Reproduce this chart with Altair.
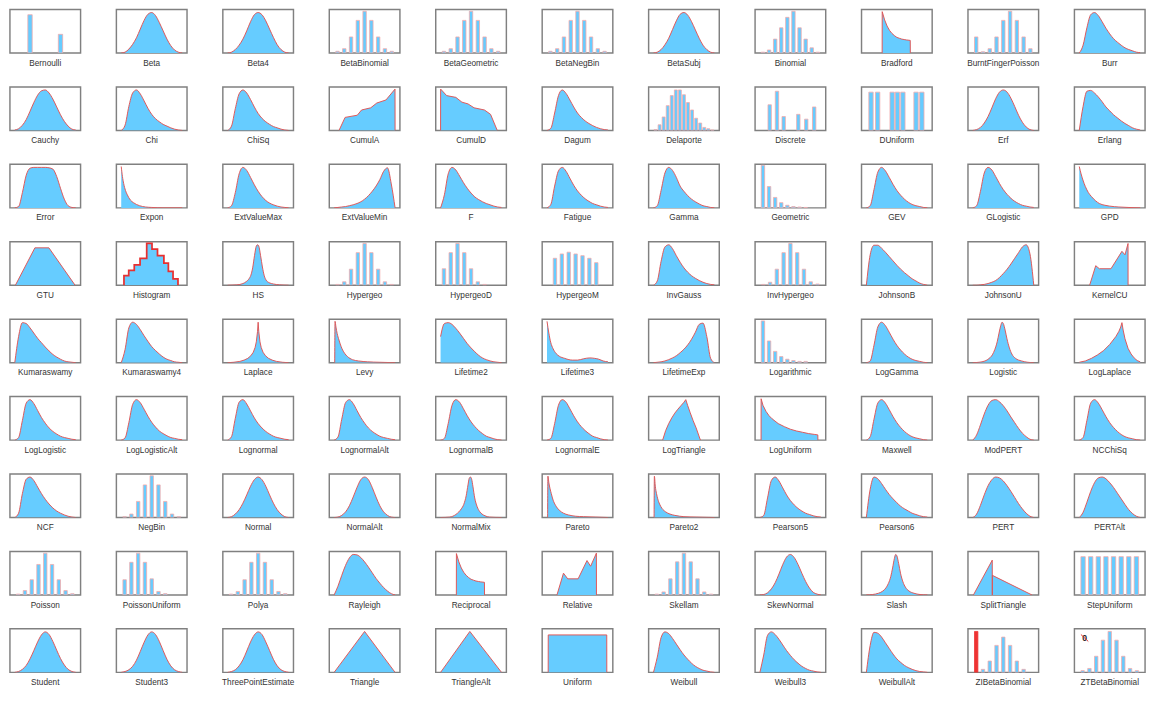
import altair as alt
import pandas as pd

# ---------------- panel names (row-major, 11 per row) ----------------
NAMES = [
    "Bernoulli", "Beta", "Beta4", "BetaBinomial", "BetaGeometric", "BetaNegBin", "BetaSubj", "Binomial", "Bradford", "BurntFingerPoisson", "Burr",
    "Cauchy", "Chi", "ChiSq", "CumulA", "CumulD", "Dagum", "Delaporte", "Discrete", "DUniform", "Erf", "Erlang",
    "Error", "Expon", "ExtValueMax", "ExtValueMin", "F", "Fatigue", "Gamma", "Geometric", "GEV", "GLogistic", "GPD",
    "GTU", "Histogram", "HS", "Hypergeo", "HypergeoD", "HypergeoM", "InvGauss", "InvHypergeo", "JohnsonB", "JohnsonU", "KernelCU",
    "Kumaraswamy", "Kumaraswamy4", "Laplace", "Levy", "Lifetime2", "Lifetime3", "LifetimeExp", "Logarithmic", "LogGamma", "Logistic", "LogLaplace",
    "LogLogistic", "LogLogisticAlt", "Lognormal", "LognormalAlt", "LognormalB", "LognormalE", "LogTriangle", "LogUniform", "Maxwell", "ModPERT", "NCChiSq",
    "NCF", "NegBin", "Normal", "NormalAlt", "NormalMix", "Pareto", "Pareto2", "Pearson5", "Pearson6", "PERT", "PERTAlt",
    "Poisson", "PoissonUniform", "Polya", "Rayleigh", "Reciprocal", "Relative", "Skellam", "SkewNormal", "Slash", "SplitTriangle", "StepUniform",
    "Student", "Student3", "ThreePointEstimate", "Triangle", "TriangleAlt", "Uniform", "Weibull", "Weibull3", "WeibullAlt", "ZIBetaBinomial", "ZTBetaBinomial",
]

# default x grid (fraction of panel width) for smooth curves
GRID = [0, 0.0625, 0.125, 0.1875, 0.25, 0.3125, 0.375, 0.4375, 0.5,
        0.5625, 0.625, 0.6875, 0.75, 0.8125, 0.875, 0.9375, 1]

# ---------------- smooth curves on GRID (height, % of panel) ----------------
BETA = [0, 2, 9, 20, 35, 55, 75, 89, 93, 86, 70, 51, 32, 17, 7, 2, 0]
BETA4 = [0, 2, 8, 18, 32, 51, 72, 88, 93, 88, 74, 55, 36, 19, 8, 2, 0]
BETASUBJ = [0, 2, 8, 19, 34, 54, 74, 89, 93, 87, 72, 53, 34, 18, 8, 2, 0]
BURR = [0, 18, 58, 88, 93, 86, 72, 57, 44, 33, 25, 18, 12, 8, 5, 2, 1]
CAUCHY = [1, 4, 12, 25, 44, 64, 81, 91, 93, 86, 72, 54, 36, 21, 10, 3, 1]
CHI = [0, 12, 55, 86, 93, 84, 68, 51, 37, 27, 20, 14, 10, 6, 3, 1, 0]
CHISQ = [0, 10, 50, 84, 93, 86, 71, 54, 39, 28, 20, 14, 9, 6, 3, 1, 0]
DAGUM = [0, 5, 40, 80, 93, 85, 70, 54, 40, 30, 22, 16, 11, 7, 4, 2, 1]
ERF = [0, 2, 7, 17, 32, 52, 73, 88, 93, 88, 74, 55, 35, 19, 8, 2, 0]
ERLANG = [0, 55, 90, 92, 86, 77, 66, 54, 45, 36, 29, 22, 16, 11, 6, 3, 1]
ERROR = [0, 3, 35, 75, 91, 93, 93, 93, 93, 92, 89, 72, 45, 20, 5, 1, 0]
EXTVALUEMAX = [0, 5, 35, 78, 93, 86, 70, 53, 38, 26, 17, 11, 7, 4, 2, 1, 0]
EXTVALUEMIN = [0, 1, 2, 3, 5, 7, 10, 14, 20, 28, 38, 50, 65, 84, 92, 55, 0]
F_DIST = [0, 30, 78, 93, 87, 73, 58, 45, 34, 25, 19, 14, 10, 7, 4, 2, 1]
FATIGUE = [0, 8, 50, 85, 93, 84, 68, 52, 39, 29, 21, 15, 10, 7, 4, 2, 1]
GAMMA = [0, 5, 40, 80, 93, 86, 70, 50, 38, 28, 20, 14, 9, 5, 3, 1, 0]
GEV = [0, 5, 42, 82, 93, 85, 70, 54, 40, 29, 20, 13, 8, 5, 3, 1, 0]
GLOGISTIC = [0, 5, 38, 80, 93, 87, 72, 56, 42, 31, 22, 15, 10, 6, 4, 2, 1]
INVGAUSS = [0, 10, 55, 88, 93, 84, 68, 53, 40, 30, 22, 16, 11, 7, 4, 2, 1]
JOHNSONB = [0, 70, 92, 92, 85, 76, 66, 56, 46, 37, 29, 22, 15, 10, 5, 2, 0]
JOHNSONU = [0, 0, 1, 2, 4, 7, 11, 18, 27, 37, 49, 62, 75, 88, 93, 72, 0]
KUMARASWAMY = [0, 60, 92, 90, 80, 68, 56, 46, 36, 27, 19, 13, 8, 4, 2, 1, 0]
KUMARASWAMY4 = [0, 30, 80, 93, 88, 76, 62, 49, 37, 28, 20, 13, 8, 5, 2, 1, 0]
LIFETIME2 = [60, 90, 92, 88, 79, 68, 56, 44, 34, 25, 17, 11, 7, 4, 2, 1, 0]
LIFETIMEEXP = [0, 1, 2, 4, 7, 11, 16, 23, 31, 41, 54, 70, 88, 91, 60, 10, 0]
LOGGAMMA = [0, 4, 40, 82, 93, 85, 70, 54, 40, 29, 20, 13, 8, 5, 3, 1, 0]
LOGLOGISTIC = [0, 6, 45, 85, 93, 84, 68, 52, 39, 28, 20, 14, 9, 6, 4, 2, 1]
LOGLOGISTICALT = [0, 5, 40, 82, 93, 86, 71, 55, 41, 30, 21, 15, 10, 6, 4, 2, 1]
LOGNORMAL = [0, 8, 50, 87, 93, 83, 67, 51, 38, 28, 20, 14, 9, 6, 4, 2, 1]
LOGNORMALALT = [0, 7, 48, 86, 93, 84, 68, 52, 39, 28, 20, 14, 9, 6, 4, 2, 1]
LOGNORMALB = [0, 4, 38, 80, 93, 87, 72, 56, 42, 31, 22, 15, 9, 6, 3, 1, 0]
LOGNORMALE = [0, 4, 38, 80, 93, 87, 72, 56, 42, 31, 22, 15, 9, 6, 3, 1, 0]
MAXWELL = [0, 8, 48, 85, 93, 85, 70, 54, 40, 29, 20, 13, 8, 5, 3, 1, 0]
MODPERT = [0, 12, 35, 60, 80, 91, 93, 88, 79, 67, 53, 40, 27, 16, 8, 2, 0]
NCCHISQ = [0, 6, 45, 85, 93, 85, 70, 54, 40, 29, 20, 13, 8, 5, 3, 1, 0]
NCF = [0, 10, 55, 88, 93, 85, 70, 55, 42, 31, 22, 15, 10, 6, 3, 1, 0]
NORMAL = [0, 2, 8, 18, 33, 52, 72, 87, 93, 87, 72, 52, 33, 18, 8, 2, 0]
NORMALALT = [0, 1, 5, 13, 27, 47, 69, 87, 93, 87, 69, 47, 27, 13, 5, 1, 0]
PEARSON5 = [0, 5, 45, 85, 93, 84, 68, 52, 39, 29, 21, 15, 10, 7, 4, 2, 1]
PEARSON6 = [0, 65, 93, 89, 78, 65, 53, 43, 34, 26, 20, 15, 10, 7, 4, 2, 1]
PERT = [0, 8, 28, 52, 73, 87, 93, 91, 84, 73, 60, 46, 32, 20, 10, 3, 0]
PERTALT = [0, 12, 35, 60, 80, 91, 93, 89, 80, 69, 56, 43, 30, 18, 9, 3, 0]
RAYLEIGH = [0, 20, 45, 68, 85, 93, 92, 86, 76, 64, 51, 38, 27, 17, 9, 3, 0]
SKEWNORMAL = [0, 1, 5, 14, 28, 48, 70, 87, 93, 86, 70, 50, 31, 16, 6, 2, 0]
STUDENT = [0, 2, 7, 16, 31, 50, 70, 86, 93, 87, 71, 51, 32, 17, 7, 2, 0]
STUDENT3 = [0, 2, 6, 14, 28, 48, 69, 86, 93, 87, 71, 50, 30, 15, 6, 2, 0]
THREEPOINT = [0, 2, 6, 15, 29, 49, 70, 86, 93, 87, 70, 50, 30, 15, 6, 2, 0]
WEIBULL = [0, 35, 80, 93, 89, 78, 65, 52, 40, 30, 21, 14, 9, 5, 3, 1, 0]
WEIBULL3 = [0, 40, 85, 93, 87, 76, 63, 50, 39, 29, 21, 14, 9, 5, 3, 1, 0]
WEIBULLALT = [0, 62, 92, 90, 81, 68, 55, 42, 31, 23, 16, 11, 7, 4, 2, 1, 0]

# ---------------- curves with their own x positions ----------------
EXPON_X = [0, .02, .04, .07, .1, .15, .2, .3, .4, .5, .7, 1.0]
EXPON_Y = [95, 72, 56, 40, 30, 18, 12, 5, 2, 1, 0, 0]
GPD_X = [0, .03, .06, .1, .15, .2, .27, .33, .42, .5, .65, .8, 1]
GPD_Y = [95, 78, 64, 49, 35, 26, 16, 10, 6, 4, 2, 1, 0]
HS_X = [0, .15, .25, .3, .35, .38, .41, .44, .47, .49, .51, .54, .57, .6, .63, .68, .75, .85, 1]
HS_Y = [0, 1, 4, 8, 15, 23, 40, 68, 90, 93, 90, 68, 42, 22, 12, 6, 3, 1, 0]
LAPLACE_X = [0, .1, .2, .27, .33, .38, .42, .45, .47, .49, .5, .51, .53, .55, .58, .62, .67, .73, .8, .9, 1]
LAPLACE_Y = [0, 1, 3, 6, 10, 16, 24, 35, 48, 72, 93, 72, 48, 35, 24, 16, 10, 6, 3, 1, 0]
LEVY_X = [0.01, 0.015, 0.03, 0.05, 0.08, 0.1, 0.13, 0.17, 0.22, 0.3, 0.4, 0.55, 0.75, 1]
LEVY_Y = [0, 95, 82, 67, 52, 43, 32, 22, 14, 7, 4, 2, 1, 0]
LIFETIME3_X = [0, .03, .06, .1, .15, .2, .29, .36, .42, .5, .6, .7, .78, .85, .92, 1]
LIFETIME3_Y = [95, 68, 47, 32, 21, 15, 10, 7, 6, 6, 9, 11, 10, 8, 4, 2]
LOGISTIC_X = [0, .1, .2, .27, .32, .36, .4, .43, .46, .48, .5, .53, .56, .6, .64, .7, .8, .9, 1]
LOGISTIC_Y = [0, 1, 4, 10, 18, 30, 48, 68, 86, 93, 90, 75, 55, 34, 20, 10, 4, 1, 0]
NORMALMIX_X = [0, .15, .2, .25, .3, .34, .38, .42, .45, .47, .49, .51, .53, .56, .6, .64, .68, .73, .8, 1]
NORMALMIX_Y = [0, 1, 3, 7, 13, 20, 30, 50, 75, 90, 93, 88, 72, 45, 25, 14, 8, 4, 1, 0]
PARETO_X = [0.01, 0.015, 0.03, 0.05, 0.07, 0.1, 0.14, 0.2, 0.27, 0.35, 0.47, 0.6, 0.8, 1]
PARETO_Y = [0, 95, 80, 66, 55, 40, 28, 17, 10, 6, 3, 2, 1, 0]
PARETO2_X = [0.01, 0.015, 0.03, 0.05, 0.07, 0.1, 0.14, 0.2, 0.27, 0.35, 0.5, 0.7, 1]
PARETO2_Y = [0, 95, 72, 55, 43, 31, 21, 13, 8, 5, 2, 1, 0]
SLASH_X = [0, .1, .2, .27, .32, .36, .4, .43, .46, .48, .5, .53, .56, .6, .64, .7, .78, .88, 1]
SLASH_Y = [0, 1, 4, 9, 16, 26, 42, 62, 84, 93, 90, 72, 50, 30, 18, 9, 4, 1, 0]

# straight-segment shapes (vertical edges as two close x values)
BRADFORD_X = [0.259, 0.26, 0.30, 0.34, 0.38, 0.42, 0.46, 0.50, 0.54, 0.58, 0.62, 0.66, 0.72, 0.721]
BRADFORD_Y = [0, 95, 76, 62, 52, 45, 40, 36, 34, 32, 31, 30, 29, 0]
RECIPROCAL_X = [0.259, 0.26, 0.30, 0.34, 0.38, 0.42, 0.46, 0.50, 0.54, 0.58, 0.62, 0.66, 0.72, 0.721]
RECIPROCAL_Y = [0, 95, 76, 62, 52, 45, 40, 36, 34, 32, 31, 30, 29, 0]
CUMULA_X = [0.08, 0.18, 0.38, 0.45, 0.6, 0.7, 0.85, 0.999, 1.0]
CUMULA_Y = [0, 30, 35, 47, 52, 63, 70, 95, 0]
CUMULD_X = [0.0, 0.001, 0.1, 0.25, 0.35, 0.45, 0.55, 0.72, 0.82, 0.93]
CUMULD_Y = [0, 95, 80, 76, 65, 61, 52, 47, 37, 0]
GTU_X = [0.01, 0.33, 0.56, 0.99]
GTU_Y = [0, 86, 86, 0]
KERNELCU_X = [0.17, 0.27, 0.33, 0.52, 0.7, 0.75, 0.8, 0.801]
KERNELCU_Y = [0, 45, 38, 38, 78, 70, 96, 0]
LOGLAPLACE_X = [0, .1, .2, .3, .4, .5, .6, .65, .68, .7, .72, .75, .8, .85, .9, .95, 1]
LOGLAPLACE_Y = [1, 4, 10, 18, 28, 42, 60, 72, 82, 92, 75, 55, 33, 20, 11, 5, 2]
LOGTRIANGLE_X = [0.15, 0.2, 0.25, 0.3, 0.35, 0.4, 0.45, 0.5, 0.53, 0.56, 0.6, 0.65, 0.7, 0.77]
LOGTRIANGLE_Y = [0, 22, 38, 51, 62, 71, 79, 87, 93, 80, 64, 45, 28, 0]
LOGUNIFORM_X = [0.019, 0.02, 0.05, 0.1, 0.15, 0.2, 0.3, 0.4, 0.5, 0.6, 0.7, 0.8, 0.9, 0.95, 0.951]
LOGUNIFORM_Y = [0, 95, 80, 66, 56, 49, 38, 31, 25, 21, 18, 15, 13, 12, 0]
RELATIVE_X = [0.163, 0.27, 0.34, 0.51, 0.656, 0.715, 0.81, 0.811]
RELATIVE_Y = [0, 50, 37, 37, 79, 66, 96, 0]
SPLITTRI_X = [0.01, 0.319, 0.32, 0.321, 0.97]
SPLITTRI_Y = [0, 80, 0, 45, 0]
TRIANGLE_X = [0, 0.5, 1]
TRIANGLE_Y = [0, 94, 0]
TRIANGLEALT_X = [0, 0.48, 1]
TRIANGLEALT_Y = [0, 94, 0]
UNIFORM_X = [0.019, 0.02, 0.98, 0.981]
UNIFORM_Y = [0, 86, 86, 0]

# histogram (step outline)
HIST_X = [0.044, 0.045, 0.123, 0.214, 0.309, 0.418, 0.505, 0.595, 0.70, 0.773, 0.85, 0.93, 0.931]
HIST_Y = [0, 22, 34, 47, 62, 96, 83, 68, 51, 32, 15, 15, 0]

# ---------------- discrete (bar) panels ----------------
BERNOULLI = [88, 43]
BETABINOMIAL = [4, 10, 37, 75, 96, 75, 37, 10, 4]
BETAGEOMETRIC = [4, 10, 37, 75, 96, 75, 37, 10, 4]
BETANEGBIN = [4, 10, 37, 75, 96, 75, 37, 10, 4]
BINOMIAL = [2, 7, 32, 58, 82, 96, 58, 32, 12, 2]
BURNTFINGER = [37, 3, 10, 37, 75, 96, 75, 37, 10]
DELAPORTE = [2, 13, 31, 57, 80, 93, 93, 82, 64, 47, 28, 17, 7, 4, 1]
DISCRETE_X = [0.16, 0.28, 0.39, 0.63, 0.76, 0.89]
DISCRETE = [59, 90, 32, 37, 26, 54]
DUNIFORM_X = [0.076, 0.185, 0.423, 0.509, 0.599, 0.815, 0.91]
DUNIFORM = [88, 88, 88, 88, 88, 88, 88]
GEOMETRIC = [98, 49, 24, 12, 6, 3, 2, 1]
HYPERGEO = [2, 8, 37, 75, 96, 75, 37, 8, 2]
HYPERGEOD = [38, 75, 96, 75, 38, 8, 2]
HYPERGEOM_X = [0.13, 0.243, 0.356, 0.469, 0.582, 0.695, 0.808]
HYPERGEOM = [62, 72, 76, 72, 68, 62, 52]
INVHYPERGEO = [2, 7, 37, 75, 96, 75, 37, 8, 3]
LOGARITHMIC = [96, 50, 26, 14, 8, 5, 3, 3]
NEGBIN = [2, 8, 37, 75, 96, 75, 37, 8, 2]
POISSON = [2, 10, 35, 70, 96, 70, 35, 10, 3]
POISSONUNIFORM = [35, 75, 96, 75, 37, 8, 3]
POLYA = [2, 8, 35, 75, 96, 75, 35, 8, 3]
SKELLAM = [2, 7, 37, 76, 96, 76, 37, 7, 2]
STEPUNIFORM = [88, 88, 88, 88, 88, 88, 88, 88]
ZIBETABINOMIAL = [94, 7, 26, 62, 81, 62, 26, 7]
ZTBETABINOMIAL = [4, 9, 37, 74, 94, 74, 37, 9, 4]
ZT_MARK_X = [0.027, 0.148]
ZT_MARK_Y = [87, 71]

FILL = "#66CCFF"
CURVE = "#E05555"
BAR_EDGE = "#F4AAAA"

rows = []


def curve(name, ys, xs=GRID, kind="mono"):
    for i, (x, y) in enumerate(zip(xs, ys)):
        rows.append({"name": name, "kind": kind, "x": x, "y": y, "i": i})


def bars(name, ys, xs=None, slots=None, bw=3.5, first=None):
    n = slots or len(ys)
    if xs is None:
        xs = [(i + 0.5) / n for i in range(len(ys))]
    for i, (x, y) in enumerate(zip(xs, ys)):
        red = first is not None and i == 0
        rows.append({"name": name, "kind": "bar", "x": x, "y": y, "i": i, "bw": bw,
                     "fill": first if red else FILL, "stroke": first if red else BAR_EDGE})


bars("Bernoulli", BERNOULLI, bw=4.5)
curve("Beta", BETA)
curve("Beta4", BETA4)
bars("BetaBinomial", BETABINOMIAL)
bars("BetaGeometric", BETAGEOMETRIC)
bars("BetaNegBin", BETANEGBIN)
curve("BetaSubj", BETASUBJ)
bars("Binomial", BINOMIAL)
curve("Bradford", BRADFORD_Y, BRADFORD_X, "lin")
bars("BurntFingerPoisson", BURNTFINGER)
curve("Burr", BURR)
curve("Cauchy", CAUCHY)
curve("Chi", CHI)
curve("ChiSq", CHISQ)
curve("CumulA", CUMULA_Y, CUMULA_X, "lin")
curve("CumulD", CUMULD_Y, CUMULD_X, "lin")
curve("Dagum", DAGUM)
bars("Delaporte", DELAPORTE, bw=3)
bars("Discrete", DISCRETE, DISCRETE_X)
bars("DUniform", DUNIFORM, DUNIFORM_X, bw=4.5)
curve("Erf", ERF)
curve("Erlang", ERLANG)
curve("Error", ERROR)
curve("Expon", EXPON_Y, EXPON_X)
curve("ExtValueMax", EXTVALUEMAX)
curve("ExtValueMin", EXTVALUEMIN)
curve("F", F_DIST)
curve("Fatigue", FATIGUE)
curve("Gamma", GAMMA)
bars("Geometric", GEOMETRIC, slots=10)
curve("GEV", GEV)
curve("GLogistic", GLOGISTIC)
curve("GPD", GPD_Y, GPD_X)
curve("GTU", GTU_Y, GTU_X, "lin")
curve("Histogram", HIST_Y, HIST_X, "step")
curve("HS", HS_Y, HS_X)
bars("Hypergeo", HYPERGEO)
bars("HypergeoD", HYPERGEOD, slots=9)
bars("HypergeoM", HYPERGEOM, HYPERGEOM_X)
curve("InvGauss", INVGAUSS)
bars("InvHypergeo", INVHYPERGEO)
curve("JohnsonB", JOHNSONB)
curve("JohnsonU", JOHNSONU)
curve("KernelCU", KERNELCU_Y, KERNELCU_X, "lin")
curve("Kumaraswamy", KUMARASWAMY)
curve("Kumaraswamy4", KUMARASWAMY4)
curve("Laplace", LAPLACE_Y, LAPLACE_X, "lin")
curve("Levy", LEVY_Y, LEVY_X)
curve("Lifetime2", LIFETIME2)
curve("Lifetime3", LIFETIME3_Y, LIFETIME3_X)
curve("LifetimeExp", LIFETIMEEXP)
bars("Logarithmic", LOGARITHMIC, slots=10)
curve("LogGamma", LOGGAMMA)
curve("Logistic", LOGISTIC_Y, LOGISTIC_X)
curve("LogLaplace", LOGLAPLACE_Y, LOGLAPLACE_X, "lin")
curve("LogLogistic", LOGLOGISTIC)
curve("LogLogisticAlt", LOGLOGISTICALT)
curve("Lognormal", LOGNORMAL)
curve("LognormalAlt", LOGNORMALALT)
curve("LognormalB", LOGNORMALB)
curve("LognormalE", LOGNORMALE)
curve("LogTriangle", LOGTRIANGLE_Y, LOGTRIANGLE_X, "lin")
curve("LogUniform", LOGUNIFORM_Y, LOGUNIFORM_X, "lin")
curve("Maxwell", MAXWELL)
curve("ModPERT", MODPERT)
curve("NCChiSq", NCCHISQ)
curve("NCF", NCF)
bars("NegBin", NEGBIN)
curve("Normal", NORMAL)
curve("NormalAlt", NORMALALT)
curve("NormalMix", NORMALMIX_Y, NORMALMIX_X)
curve("Pareto", PARETO_Y, PARETO_X)
curve("Pareto2", PARETO2_Y, PARETO2_X)
curve("Pearson5", PEARSON5)
curve("Pearson6", PEARSON6)
curve("PERT", PERT)
curve("PERTAlt", PERTALT)
bars("Poisson", POISSON)
bars("PoissonUniform", POISSONUNIFORM, slots=9)
bars("Polya", POLYA)
curve("Rayleigh", RAYLEIGH)
curve("Reciprocal", RECIPROCAL_Y, RECIPROCAL_X, "lin")
curve("Relative", RELATIVE_Y, RELATIVE_X, "lin")
bars("Skellam", SKELLAM)
curve("SkewNormal", SKEWNORMAL)
curve("Slash", SLASH_Y, SLASH_X)
curve("SplitTriangle", SPLITTRI_Y, SPLITTRI_X, "lin")
bars("StepUniform", STEPUNIFORM, bw=4.5)
curve("Student", STUDENT)
curve("Student3", STUDENT3)
curve("ThreePointEstimate", THREEPOINT)
curve("Triangle", TRIANGLE_Y, TRIANGLE_X, "lin")
curve("TriangleAlt", TRIANGLEALT_Y, TRIANGLEALT_X, "lin")
curve("Uniform", UNIFORM_Y, UNIFORM_X, "lin")
curve("Weibull", WEIBULL)
curve("Weibull3", WEIBULL3)
curve("WeibullAlt", WEIBULLALT)
bars("ZIBetaBinomial", ZIBETABINOMIAL, slots=9, first="#EE3333")
bars("ZTBetaBinomial", ZTBETABINOMIAL)
rows.append({"name": "ZTBetaBinomial", "kind": "txt", "x": 0.09, "y": 79, "i": 0, "t": "0"})
for i, (x, y) in enumerate(zip(ZT_MARK_X, ZT_MARK_Y)):
    rows.append({"name": "ZTBetaBinomial", "kind": "strike", "x": x, "y": y, "i": i})

df = pd.DataFrame(rows)

X = alt.X("x:Q", scale=alt.Scale(domain=[0, 1], nice=False, zero=False), axis=None)
Y = alt.Y("y:Q", scale=alt.Scale(domain=[0, 100], nice=False), axis=None)
base = alt.Chart()


def fill_layer(kind, interp):
    return base.transform_filter(alt.datum.kind == kind).mark_area(
        interpolate=interp, fill=FILL, opacity=1, orient="vertical", clip=True,
    ).encode(x=X, y=Y, y2=alt.datum(0))


def edge_layer(kind, interp, color, width):
    return base.transform_filter(alt.datum.kind == kind).mark_line(
        interpolate=interp, color=color, strokeWidth=width, clip=True,
    ).encode(x=X, y=Y, order="i:Q")


layers = [
    fill_layer("mono", "monotone"),
    fill_layer("lin", "linear"),
    fill_layer("step", "step-after"),
    edge_layer("mono", "monotone", CURVE, 1),
    edge_layer("lin", "linear", CURVE, 1),
    edge_layer("step", "step-after", "#E83030", 1.8),
    base.transform_filter(alt.datum.kind == "bar").mark_bar(orient="vertical", strokeWidth=0.8, clip=True).encode(
        x=X, y=Y,
        size=alt.Size("bw:Q", scale=None, legend=None),
        fill=alt.Fill("fill:N", scale=None, legend=None),
        stroke=alt.Stroke("stroke:N", scale=None, legend=None),
    ),
    base.transform_filter(alt.datum.kind == "txt").mark_text(
        fontSize=9, fontWeight="bold", color="#222222", font="Liberation Sans", clip=True
    ).encode(x=X, y=Y, text="t:N"),
    base.transform_filter(alt.datum.kind == "strike").mark_line(color="#E03030", strokeWidth=1, clip=True).encode(
        x=X, y=Y, order="i:Q"
    ),
]

chart = alt.layer(*layers, data=df).properties(width=73, height=45).facet(
    facet=alt.Facet(
        "name:N", sort=NAMES,
        header=alt.Header(
            title=None, labelOrient="bottom", titleOrient="bottom", labelFont="Liberation Sans",
            labelFontSize=8.5, labelColor="#333333", labelPadding=6,
        ),
    ),
    columns=11,
    spacing={"row": 18, "column": 33},
).properties(padding={"top": -11, "left": 1, "right": 1, "bottom": 1}).configure_view(
    stroke="#808080", strokeWidth=1.5
)

chart.save("out.html", embed_options={"renderer": "svg", "actions": False})
